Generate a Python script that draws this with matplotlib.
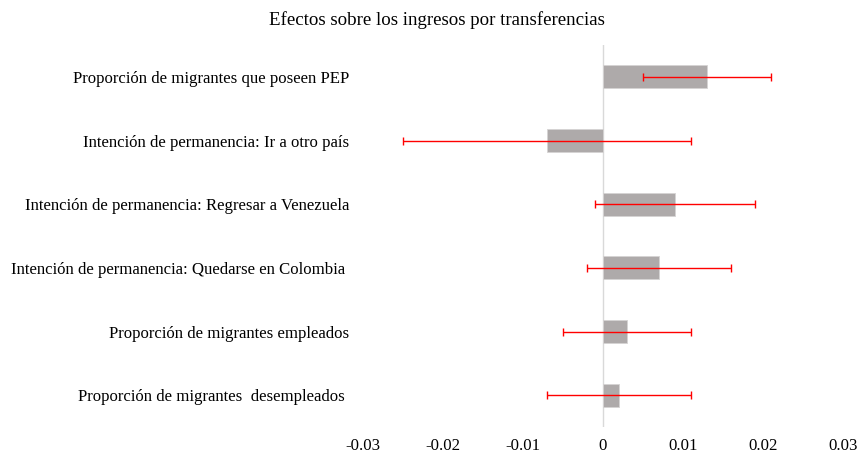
import matplotlib
matplotlib.use("Agg")
import matplotlib.pyplot as plt
import numpy as np

plt.rcParams["font.family"] = ["Liberation Serif", "DejaVu Serif"]

# data, top to bottom as in the chart
labels = [
    "Proporción de migrantes que poseen PEP",
    "Intención de permanencia: Ir a otro país",
    "Intención de permanencia: Regresar a Venezuela",
    "Intención de permanencia: Quedarse en Colombia ",
    "Proporción de migrantes empleados",
    "Proporción de migrantes  desempleados ",
]
coef = [0.013, -0.007, 0.009, 0.007, 0.003, 0.002]
ci = [0.008, 0.018, 0.010, 0.009, 0.008, 0.009]
xticks = [-0.03, -0.02, -0.01, 0, 0.01, 0.02, 0.03]
xticklabels = ["-0.03", "-0.02", "-0.01", "0", "0.01", "0.02", "0.03"]

fig = plt.figure(figsize=(8.57, 4.54), dpi=100)
ax = fig.add_axes([363/857, 1 - 427/454, 480/857, 382/454])

ypos = np.arange(len(labels))
ax.barh(ypos, coef, height=0.357, color="#AEAAAA", edgecolor="#D5D3D3",
        linewidth=0.6, zorder=2)
ax.errorbar(coef, ypos, xerr=ci, fmt="none", ecolor="#FF0000",
            elinewidth=1.0, capsize=3, capthick=1.0, zorder=3)
ax.axvline(0, color="#D9D9D9", lw=1.0, zorder=1)

ax.set_xlim(-0.03, 0.03)
ax.set_ylim(len(labels) - 0.5, -0.5)
ax.set_xticks(xticks)
ax.set_xticklabels(xticklabels)
ax.set_yticks(ypos)
ax.set_yticklabels(labels)
ax.tick_params(axis="both", length=0, labelsize=12.1)
ax.tick_params(axis="x", pad=8)
ax.tick_params(axis="y", pad=10)
for s in ax.spines.values():
    s.set_visible(False)

fig.text(437/857, 1 - 20/454, "Efectos sobre los ingresos por transferencias",
         ha="center", va="center", fontsize=13.6)

fig.savefig("out.png", dpi=100, facecolor="white")
